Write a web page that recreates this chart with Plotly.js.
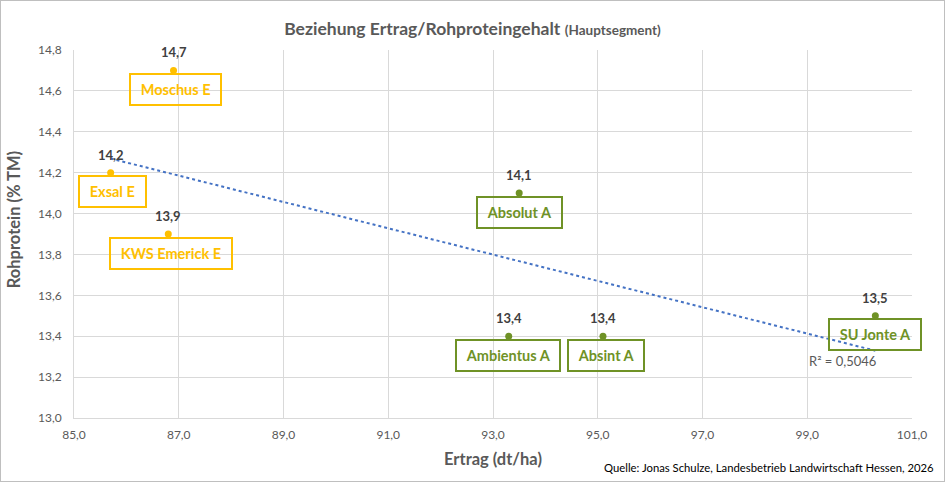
<!DOCTYPE html>
<html>
<head>
<meta charset="utf-8">
<script src="https://cdn.plot.ly/plotly-3.0.1.min.js"></script>
<style>
  body { margin: 0; background: #fff; }
  #chart { width: 943px; height: 480px; border: 1px solid #bfbfbf; }
</style>
</head>
<body>
<div id="chart"></div>
<script>
// Sorten, Ertrag (dt/ha) und Rohprotein (% TM)
var sorten = ['Moschus E', 'Exsal E', 'KWS Emerick E', 'Absolut A', 'Ambientus A', 'Absint A', 'SU Jonte A'];
var ertrag = [86.9, 85.7, 86.8, 93.5, 93.3, 95.1, 100.3];
var rohprotein = [14.7, 14.2, 13.9, 14.1, 13.4, 13.4, 13.5];
var qualitaet = ['E', 'E', 'E', 'A', 'A', 'A', 'A'];

var farbeE = '#FFC000';
var farbeA = '#6F9226';
var labelShift = [2, 2, 3, 0, -1, 3, 0];

function farbe(q) {
	return q == 'E' ? farbeE : farbeA;
}

// lineare Trendlinie
var n = ertrag.length;
var mx = 0, my = 0;
for (var i = 0; i < n; i++) { mx += ertrag[i]; my += rohprotein[i]; }
mx /= n; my /= n;
var sxy = 0, sxx = 0;
for (var i = 0; i < n; i++) {
	sxy += (ertrag[i] - mx) * (rohprotein[i] - my);
	sxx += (ertrag[i] - mx) * (ertrag[i] - mx);
}
var slope = sxy / sxx;
var xmin = Math.min.apply(null, ertrag);
var xmax = Math.max.apply(null, ertrag);

var punkte = {
	x: ertrag,
	y: rohprotein,
	mode: 'markers',
	type: 'scatter',
	marker: { size: 7, color: qualitaet.map(farbe) },
	hoverinfo: 'x+y',
	cliponaxis: false
};

var trend = {
	x: [xmin, xmax],
	y: [my + slope * (xmin - mx), my + slope * (xmax - mx)],
	mode: 'lines',
	type: 'scatter',
	line: { color: '#4472C4', width: 2, dash: 'dot' },
	hoverinfo: 'skip'
};

var annotations = [];
for (var i = 0; i < n; i++) {
	annotations.push({
		x: ertrag[i], y: rohprotein[i], xref: 'x', yref: 'y',
		text: '<b>' + rohprotein[i].toFixed(1).replace('.', ',') + '</b>',
		showarrow: false, yshift: 18,
		font: { family: 'Lato, sans-serif', size: 13, color: '#404040' }
	});
	annotations.push({
		x: ertrag[i], y: rohprotein[i], xref: 'x', yref: 'y',
		text: '&nbsp;<b>' + sorten[i] + '</b>&nbsp;',
		showarrow: false, yshift: -19, xshift: labelShift[i],
		bgcolor: 'rgba(255,255,255,0)',
		bordercolor: farbe(qualitaet[i]), borderwidth: 2, borderpad: 6,
		font: { family: 'Lato, sans-serif', size: 14.5, color: farbe(qualitaet[i]) }
	});
}
annotations.push({
	x: xmax, y: my + slope * (xmax - mx), xref: 'x', yref: 'y',
	text: 'R² = 0,5046', showarrow: false, xanchor: 'right', yshift: -10, xshift: 3,
	font: { family: 'Lato, sans-serif', size: 13, color: '#595959' }
});
annotations.push({
	x: 1.0, y: -0.135, xref: 'paper', yref: 'paper', xanchor: 'right', yanchor: 'middle',
	text: 'Quelle: Jonas Schulze, Landesbetrieb Landwirtschaft Hessen, 2026',
	showarrow: false, xshift: 24,
	font: { family: 'Lato, sans-serif', size: 11.3, color: '#000' }
});
// y-Achsentitel
annotations.push({
	x: -0.0716, y: 0.54, xref: 'paper', yref: 'paper', xanchor: 'center', yanchor: 'middle',
	text: '<b>Rohprotein (% TM)</b>', textangle: -90, showarrow: false,
	font: { family: 'Lato, sans-serif', size: 16.5, color: '#595959' }
});

var layout = {
	width: 943,
	height: 480,
	margin: { l: 73, r: 32, t: 49, b: 63 },
	paper_bgcolor: '#fff',
	plot_bgcolor: '#fff',
	separators: ',.',
	showlegend: false,
	title: {
		text: '<b>Beziehung Ertrag/Rohproteingehalt</b> <span style="font-size:13.5px"><b>(Hauptsegment)</b></span>',
		x: 0.5, xanchor: 'center', y: 0.955,
		font: { family: 'Lato, sans-serif', size: 17.5, color: '#595959' }
	},
	xaxis: {
		range: [85, 101], dtick: 2, tick0: 85, tickformat: '.1f',
		showgrid: true, gridcolor: '#d9d9d9', gridwidth: 1,
		showline: true, linecolor: '#d9d9d9', zeroline: false,
		ticks: '', ticklabelstandoff: 6,
		tickfont: { family: 'Lato, sans-serif', size: 12, color: '#595959' },
		title: { text: '<b>Ertrag (dt/ha)</b>', standoff: 12,
			font: { family: 'Lato, sans-serif', size: 16.5, color: '#595959' } }
	},
	yaxis: {
		range: [13, 14.8], dtick: 0.2, tickformat: '.1f',
		showgrid: true, gridcolor: '#d9d9d9', gridwidth: 1,
		showline: true, linecolor: '#d9d9d9', zeroline: false,
		ticks: '', ticklabelstandoff: 9,
		tickfont: { family: 'Lato, sans-serif', size: 12, color: '#595959' }
	},
	annotations: annotations
};

Plotly.newPlot('chart', [trend, punkte], layout, { displayModeBar: false, staticPlot: true });
</script>
</body>
</html>
